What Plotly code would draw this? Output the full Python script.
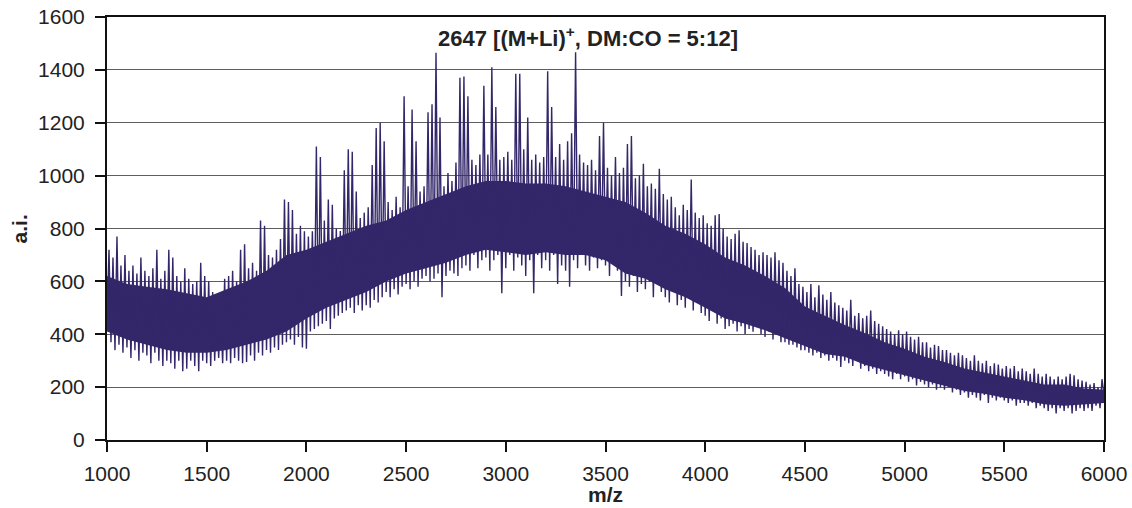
import plotly.graph_objects as go

# m/z sampling grid (every 10 m/z from 1000 to 6000)
mz_start = 1000
mz_stop = 6000
mz_step = 10

# intensity (a.i.), one row per 100 m/z block
intensity_rows = [
    [450, 720, 370, 690, 340, 770, 360, 660, 330, 700],   # 1000
    [350, 640, 310, 660, 340, 630, 300, 690, 330, 640],   # 1100
    [320, 620, 290, 650, 330, 720, 300, 610, 280, 640],   # 1200
    [300, 720, 290, 690, 270, 620, 300, 600, 260, 650],   # 1300
    [270, 610, 300, 590, 280, 600, 260, 670, 300, 620],   # 1400
    [290, 600, 280, 560, 300, 510, 310, 500, 290, 610],   # 1500
    [300, 620, 290, 640, 310, 600, 300, 720, 290, 740],   # 1600
    [295, 650, 320, 670, 300, 640, 330, 830, 320, 810],   # 1700
    [340, 700, 330, 690, 350, 720, 340, 760, 360, 910],   # 1800
    [370, 900, 380, 870, 360, 780, 390, 810, 350, 790],   # 1900
    [345, 770, 410, 790, 420, 1110, 430, 1070, 440, 830], # 2000
    [450, 910, 420, 890, 460, 800, 470, 790, 480, 1020],  # 2100
    [490, 1100, 500, 1090, 480, 940, 510, 840, 490, 860], # 2200
    [510, 880, 500, 1040, 530, 1180, 520, 1200, 540, 1130],  # 2300
    [560, 900, 540, 870, 570, 920, 550, 880, 580, 1300],  # 2400
    [590, 960, 570, 1250, 600, 1130, 580, 940, 610, 960], # 2500
    [620, 1240, 600, 1270, 610, 1465, 630, 1220, 540, 960],  # 2600
    [620, 1010, 640, 980, 630, 1050, 620, 1370, 650, 1375],  # 2700
    [660, 1300, 640, 1060, 700, 1040, 650, 1080, 680, 1340], # 2800
    [690, 1080, 640, 1410, 680, 1260, 700, 1060, 555, 1070], # 2900
    [650, 1090, 700, 1060, 640, 1385, 690, 1385, 660, 1100], # 3000
    [620, 1220, 680, 1060, 555, 1080, 700, 1050, 650, 1070], # 3100
    [680, 1395, 640, 1260, 700, 1070, 590, 1120, 660, 1060], # 3200
    [640, 1130, 580, 1160, 680, 1467, 650, 1080, 700, 1050], # 3300
    [660, 1040, 640, 1060, 690, 1020, 650, 1150, 680, 1200], # 3400
    [660, 1030, 620, 1000, 680, 1070, 640, 1010, 545, 1030], # 3500
    [600, 1120, 580, 1150, 620, 990, 560, 1000, 590, 1045],  # 3600
    [570, 960, 600, 970, 540, 950, 590, 1026, 560, 930],  # 3700
    [540, 910, 520, 920, 560, 880, 510, 850, 530, 890],   # 3800
    [500, 870, 540, 985, 490, 860, 520, 840, 480, 850],   # 3900
    [470, 820, 450, 810, 490, 850, 440, 855, 460, 800],   # 4000
    [420, 770, 430, 760, 440, 780, 410, 793, 430, 750],   # 4100
    [400, 745, 420, 730, 410, 720, 430, 700, 400, 710],   # 4200
    [390, 700, 410, 690, 380, 710, 400, 680, 370, 670],   # 4300
    [370, 640, 360, 620, 360, 650, 350, 590, 340, 580],   # 4400
    [340, 560, 330, 590, 320, 540, 330, 585, 310, 550],   # 4500
    [320, 530, 300, 560, 310, 520, 300, 510, 276, 500],   # 4600
    [300, 490, 290, 530, 280, 470, 300, 480, 270, 460],   # 4700
    [280, 470, 260, 490, 270, 450, 250, 440, 260, 430],   # 4800
    [250, 420, 240, 410, 230, 400, 250, 415, 230, 400],   # 4900
    [240, 410, 220, 390, 230, 380, 206, 390, 220, 370],   # 5000
    [210, 370, 200, 350, 210, 360, 190, 355, 200, 340],   # 5100
    [190, 340, 200, 330, 180, 320, 190, 330, 170, 320],   # 5200
    [180, 310, 160, 300, 170, 320, 160, 300, 150, 290],   # 5300
    [170, 300, 140, 280, 160, 290, 150, 285, 160, 270],   # 5400
    [150, 280, 140, 270, 150, 280, 130, 260, 140, 270],   # 5500
    [140, 260, 130, 250, 140, 270, 120, 250, 130, 240],   # 5600
    [120, 250, 110, 240, 120, 230, 100, 240, 120, 230],   # 5700
    [110, 240, 120, 250, 100, 245, 110, 230, 120, 225],   # 5800
    [110, 220, 120, 210, 110, 215, 130, 200, 120, 230],   # 5900
    [170],                                                # 6000
]

# dense (solid) core of the spectrum band, read every 100 m/z
core_mz = [1000, 1100, 1200, 1300, 1400, 1500, 1600, 1700, 1800, 1900,
           2000, 2100, 2200, 2300, 2400, 2500, 2600, 2700, 2800, 2900,
           3000, 3100, 3200, 3300, 3400, 3500, 3600, 3700, 3800, 3900,
           4000, 4100, 4200, 4300, 4400, 4500, 4600, 4700, 4800, 4900,
           5000, 5100, 5200, 5300, 5400, 5500, 5600, 5700, 5800, 5900, 6000]
core_low = [410, 380, 360, 340, 330, 330, 340, 360, 380, 410,
            460, 500, 530, 560, 600, 630, 650, 670, 700, 720,
            710, 700, 710, 700, 700, 680, 630, 610, 570, 540,
            500, 460, 440, 415, 385, 355, 325, 315, 285, 265,
            245, 225, 205, 185, 175, 160, 150, 135, 130, 135, 140]
core_high = [620, 590, 580, 570, 555, 540, 570, 600, 640, 700,
             720, 750, 780, 810, 830, 870, 900, 930, 960, 980,
             980, 970, 970, 960, 940, 920, 900, 860, 810, 780,
             740, 690, 660, 620, 575, 505, 470, 435, 405, 370,
             345, 315, 295, 270, 255, 240, 225, 210, 210, 195, 190]

x_ticks = [1000, 1500, 2000, 2500, 3000, 3500, 4000, 4500, 5000, 5500, 6000]
y_ticks = [0, 200, 400, 600, 800, 1000, 1200, 1400, 1600]

peak_label = "2647 [(M+Li)<sup>+</sup>, DM:CO = 5:12]"
peak_label_mz = 2648
peak_label_y = 1524

intensity = [v for row in intensity_rows for v in row]
mz = list(range(mz_start, mz_stop + 1, mz_step))[:len(intensity)]

LINE_COLOR = "#33276a"
FONT = "Liberation Sans, Arial, sans-serif"
TEXT_COLOR = "#222222"

fig = go.Figure()
# solid core band
fig.add_trace(go.Scatter(
    x=core_mz, y=core_low, mode="lines", line=dict(color=LINE_COLOR, width=0),
    hoverinfo="skip", showlegend=False,
))
fig.add_trace(go.Scatter(
    x=core_mz, y=core_high, mode="lines", line=dict(color=LINE_COLOR, width=0),
    fill="tonexty", fillcolor=LINE_COLOR, hoverinfo="skip", showlegend=False,
))
# spectrum trace
fig.add_trace(go.Scatter(
    x=mz, y=intensity, mode="lines",
    line=dict(color=LINE_COLOR, width=1.4),
    hoverinfo="x+y", showlegend=False,
))

fig.update_layout(
    width=1132, height=508,
    margin=dict(l=107, r=28, t=17, b=68, autoexpand=False),
    paper_bgcolor="white", plot_bgcolor="white",
    font=dict(family=FONT, color=TEXT_COLOR, size=21),
    xaxis=dict(
        range=[1000, 6000], tickvals=x_ticks, automargin=False,
        ticks="outside", ticklen=10, tickwidth=1.5, tickcolor="#111111",
        showline=True, linecolor="#111111", linewidth=2, mirror=True,
        showgrid=False, zeroline=False, ticklabelstandoff=4,
        tickfont=dict(size=21, family=FONT, color=TEXT_COLOR),
    ),
    yaxis=dict(
        range=[0, 1600], tickvals=y_ticks, automargin=False,
        ticks="outside", ticklen=10, tickwidth=1.5, tickcolor="#111111",
        showline=True, linecolor="#111111", linewidth=2, mirror=True,
        showgrid=True, gridcolor="#5e5e5e", gridwidth=1.4, zeroline=False,
        ticklabelstandoff=6,
        tickfont=dict(size=21, family=FONT, color=TEXT_COLOR),
    ),
    annotations=[
        dict(text="<b>" + peak_label + "</b>", x=peak_label_mz, y=peak_label_y,
             xref="x", yref="y", xanchor="left", yanchor="middle",
             showarrow=False, font=dict(size=22, family=FONT, color=TEXT_COLOR)),
        dict(text="<b>a.i.</b>", x=-0.0873, y=0.5, xref="paper", yref="paper",
             xanchor="center", yanchor="middle", textangle=-90, showarrow=False,
             font=dict(size=21, family=FONT, color=TEXT_COLOR)),
        dict(text="<b>m/z</b>", x=0.5, y=-0.13, xref="paper", yref="paper",
             xanchor="center", yanchor="middle", showarrow=False,
             font=dict(size=21, family=FONT, color=TEXT_COLOR)),
    ],
)

fig.write_html(
    "out.html",
    config={"displayModeBar": False},
    post_script="document.body.style.margin='0';document.body.style.overflow='hidden';",
)
